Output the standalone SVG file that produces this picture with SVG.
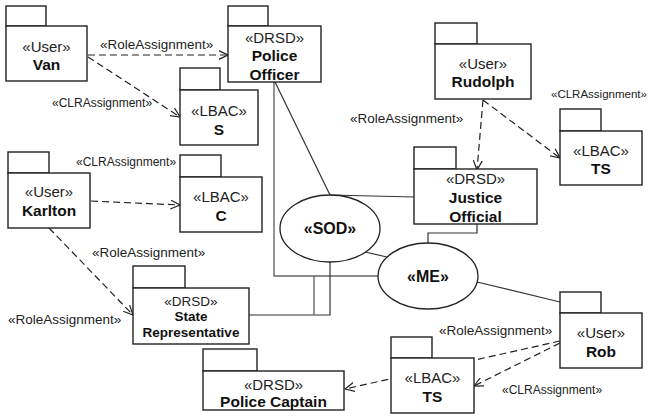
<svg xmlns="http://www.w3.org/2000/svg" width="649" height="417" viewBox="0 0 649 417">
  <style>
    .pkg { fill: #fff; stroke: #222; stroke-width: 1.4; }
    .ell { fill: #fff; stroke: #222; stroke-width: 1.3; }
    .st { font-family: "Liberation Sans", Arial, sans-serif; font-size: 15px; fill: #222; text-anchor: middle; }
    .nm { font-family: "Liberation Sans", Arial, sans-serif; font-size: 15.5px; font-weight: bold; fill: #111; text-anchor: middle; }
    .sm { font-size: 13.5px; }
    .lbl { font-family: "Liberation Sans", Arial, sans-serif; font-size: 13.5px; fill: #222; }
    .lbl2 { font-family: "Liberation Sans", Arial, sans-serif; font-size: 12px; fill: #222; }
    .dash { fill: none; stroke: #222; stroke-width: 1.2; stroke-dasharray: 7 4; marker-end: url(#open); }
    .solid { fill: none; stroke: #333; stroke-width: 1.2; }
    .grey { fill: none; stroke: #666; stroke-width: 1.4; }
  </style>
  <defs>
    <marker id="open" viewBox="0 0 10 10" refX="9.5" refY="5" markerWidth="10" markerHeight="10" markerUnits="userSpaceOnUse" orient="auto">
      <path d="M0,0.5 L9.5,5 L0,9.5" fill="none" stroke="#222" stroke-width="1.2"/>
    </marker>
  </defs>

  <rect width="649" height="417" fill="#fff"/>

  <!-- connectors -->
  <g id="connectors">
    <polyline class="grey" points="274,82 274,276 378,276"/>
    <line class="solid" x1="275" y1="82" x2="330" y2="195"/>
    <line class="solid" x1="330" y1="195" x2="414" y2="197"/>
    <polyline class="solid" points="477,224 477,233 428,233 428,243"/>
    <line class="solid" x1="365" y1="252" x2="387" y2="257"/>
    <line class="solid" x1="477" y1="282" x2="560" y2="302"/>
    <polyline class="solid" points="249,315 330,315 330,262"/>
    <line class="grey" x1="314" y1="276" x2="314" y2="315"/>

    <line class="dash" x1="88" y1="55" x2="228" y2="55"/>
    <line class="dash" x1="88" y1="57" x2="180" y2="117"/>
    <line class="dash" x1="483" y1="100" x2="477" y2="170"/>
    <line class="dash" x1="483" y1="100" x2="560" y2="158"/>
    <line class="dash" x1="91" y1="201" x2="180" y2="205"/>
    <line class="dash" x1="49" y1="228" x2="133" y2="315"/>
    <line class="dash" x1="560" y1="341" x2="345" y2="389"/>
    <line class="dash" x1="560" y1="343" x2="474" y2="386"/>

    <text class="lbl" x="100" y="49">«RoleAssignment»</text>
    <text class="lbl2" x="52" y="107">«CLRAssignment»</text>
    <text class="lbl" x="350" y="123">«RoleAssignment»</text>
    <text class="lbl2" x="551" y="98" style="font-size:11.5px">«CLRAssignment»</text>
    <text class="lbl2" x="76" y="166">«CLRAssignment»</text>
    <text class="lbl" x="92" y="257">«RoleAssignment»</text>
    <text class="lbl" x="8" y="324">«RoleAssignment»</text>
    <text class="lbl" x="439" y="335">«RoleAssignment»</text>
    <text class="lbl2" x="502" y="394">«CLRAssignment»</text>
  </g>

  <!-- nodes -->
  <g id="van">
    <rect class="pkg" x="6" y="6" width="40" height="20"/>
    <rect class="pkg" x="6" y="26" width="81" height="55"/>
    <text class="st" x="46.5" y="52">«User»</text>
    <text class="nm" x="46.5" y="70">Van</text>
  </g>
  <g id="police-officer">
    <rect class="pkg" x="228" y="6" width="40" height="20"/>
    <rect class="pkg" x="228" y="26" width="93" height="56"/>
    <text class="st" x="274.5" y="43">«DRSD»</text>
    <text class="nm" x="274.5" y="61">Police</text>
    <text class="nm" x="274.5" y="80">Officer</text>
  </g>
  <g id="lbac-s">
    <rect class="pkg" x="180" y="68" width="40" height="22"/>
    <rect class="pkg" x="180" y="90" width="78" height="55"/>
    <text class="st" x="219" y="116">«LBAC»</text>
    <text class="nm" x="219" y="135">S</text>
  </g>
  <g id="rudolph">
    <rect class="pkg" x="435" y="23" width="42" height="21"/>
    <rect class="pkg" x="435" y="44" width="96" height="55"/>
    <text class="st" x="483" y="69">«User»</text>
    <text class="nm" x="483" y="87">Rudolph</text>
  </g>
  <g id="lbac-ts-top">
    <rect class="pkg" x="560" y="109" width="41" height="22"/>
    <rect class="pkg" x="560" y="131" width="82" height="54"/>
    <text class="st" x="601" y="156">«LBAC»</text>
    <text class="nm" x="601" y="174">TS</text>
  </g>
  <g id="justice-official">
    <rect class="pkg" x="414" y="147" width="42" height="22"/>
    <rect class="pkg" x="414" y="169" width="123" height="55"/>
    <text class="st" x="475.5" y="184">«DRSD»</text>
    <text class="nm" x="475.5" y="203">Justice</text>
    <text class="nm" x="475.5" y="222">Official</text>
  </g>
  <g id="karlton">
    <rect class="pkg" x="8" y="152" width="41" height="21"/>
    <rect class="pkg" x="8" y="173" width="82" height="55"/>
    <text class="st" x="49" y="197">«User»</text>
    <text class="nm" x="49" y="216">Karlton</text>
  </g>
  <g id="lbac-c">
    <rect class="pkg" x="180" y="155" width="41" height="22"/>
    <rect class="pkg" x="180" y="177" width="82" height="55"/>
    <text class="st" x="221" y="202">«LBAC»</text>
    <text class="nm" x="221" y="221">C</text>
  </g>
  <g id="state-representative">
    <rect class="pkg" x="133" y="266" width="52" height="22"/>
    <rect class="pkg" x="133" y="288" width="116" height="56"/>
    <text class="st sm" x="191" y="306">«DRSD»</text>
    <text class="nm sm" x="191" y="321">State</text>
    <text class="nm sm" x="191" y="337">Representative</text>
  </g>
  <g id="sod">
    <ellipse class="ell" cx="330" cy="228.5" rx="50" ry="33.5"/>
    <text class="nm" x="330" y="234" style="font-size:16px">«SOD»</text>
  </g>
  <g id="me">
    <ellipse class="ell" cx="428" cy="276" rx="50" ry="33"/>
    <text class="nm" x="428" y="282" style="font-size:16px">«ME»</text>
  </g>
  <g id="rob">
    <rect class="pkg" x="560" y="292" width="41" height="21"/>
    <rect class="pkg" x="560" y="313" width="82" height="55"/>
    <text class="st" x="601" y="338">«User»</text>
    <text class="nm" x="601" y="357">Rob</text>
  </g>
  <g id="lbac-ts-bottom">
    <rect class="pkg" x="391" y="337" width="41" height="21"/>
    <rect class="pkg" x="391" y="358" width="83" height="55"/>
    <text class="st" x="432.5" y="383">«LBAC»</text>
    <text class="nm" x="432.5" y="402">TS</text>
  </g>
  <g id="police-captain">
    <rect class="pkg" x="203" y="349" width="54" height="22"/>
    <rect class="pkg" x="203" y="371" width="141" height="39"/>
    <text class="st" x="273.5" y="390">«DRSD»</text>
    <text class="nm" x="273.5" y="407">Police Captain</text>
  </g>
</svg>
